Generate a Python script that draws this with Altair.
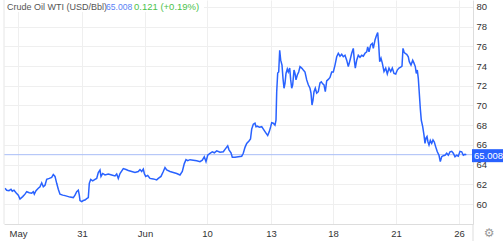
import altair as alt
import pandas as pd

# time index (trading-time position) and WTI price
t = [5, 6.7, 9, 11, 12.3, 14, 16, 18.3, 20, 22.7, 25, 26.7, 29.3, 31.7, 33.3, 34.3, 36, 38.3, 40, 41.7,
     43.3, 45, 46.7, 49.3, 51.7, 53.3, 55, 56.7, 58.3, 60, 62.7, 65, 66.7, 70, 73.3, 75, 76.7, 78.3, 79.3, 80,
     81.7, 83.3, 85, 86.7, 88.3, 89.3, 90.7, 92.7, 95, 96.7, 98.3, 100, 101, 102.7, 105, 108.3, 111.7, 115, 116.7, 118.3,
     120, 123.3, 126, 128.3, 131.7, 135, 138.3, 140, 141.7, 143.3, 144.3, 145.7, 147.7, 150, 153.3, 156.7, 158.3, 161, 163.3, 165,
     166.7, 170, 173.3, 176.7, 180, 182.3, 184.3, 186, 187.7, 190, 193.3, 196.7, 200, 202.3, 204.3, 206, 207.7, 210, 212.3, 214.3,
     216.7, 220, 223.3, 225, 227.7, 229, 231, 232.3, 235, 238.3, 241.7, 243.3, 245, 246.7, 249, 250.5, 251.7, 253.3, 255, 256,
     257.3, 259.3, 261.7, 264, 266, 267.7, 269.3, 270.7, 271.7, 273.3, 275, 276, 276.7, 277.7, 278.7, 279.7, 280.7, 282, 283, 284,
     285, 286, 287.3, 288.3, 289.7, 290.7, 291.7, 292.7, 294, 295, 296, 297.3, 298.7, 300, 301.7, 303.3, 305, 306.7, 308.3, 310,
     311, 312, 313, 314, 315.3, 316.7, 318.3, 320, 321.3, 322.7, 324, 325.3, 326.7, 328.3, 330, 331.7, 333.3, 335, 336.7, 338.3,
     340, 341.7, 343.3, 345, 346.7, 348.3, 350, 351.7, 353.3, 354.3, 355.3, 356.7, 358.3, 360, 361.7, 363.3, 365, 366.7, 367.7, 369,
     370.7, 372.3, 373.3, 375, 376.3, 377.7, 378.7, 379.7, 381, 382.3, 384, 385.7, 387.3, 389, 390.7, 392.3, 394, 395.7, 397.3, 399,
     400.7, 402, 403, 404, 405, 406.7, 408.3, 409.3, 411, 412.7, 414, 415.3, 416.3, 417.3, 418.3, 419.3, 420.3, 421.3, 422.7, 424,
     425, 426, 427, 428, 429, 430.3, 431.7, 433, 434.3, 435.7, 437.3, 439, 440.3, 441.7, 443.3, 445, 446.7, 448.3, 450, 451.7,
     453.3, 455, 456.7, 458.3, 460, 461.7, 463.3, 465, 466.3]
price = [61.6, 61.4, 61.35, 61.5, 61.3, 61.4, 61.15, 60.9, 60.5, 60.75, 61.0, 61.25, 61.15, 61.1, 61.25, 61.0, 61.35, 61.6, 61.75, 62.15,
         61.75, 61.9, 62.5, 62.6, 62.7, 63.0, 62.8, 62.1, 61.5, 61.0, 60.9, 60.85, 60.8, 60.7, 60.65, 60.9, 61.25, 61.4, 60.9, 60.35,
         60.25, 60.35, 60.4, 60.55, 60.65, 62.1, 62.5, 62.35, 62.5, 62.6, 63.2, 63.45, 62.8, 63.1, 62.95, 63.05, 62.95, 62.85, 63.05, 62.6,
         63.1, 63.6, 63.5, 63.4, 63.3, 63.2, 63.3, 63.5, 63.3, 63.55, 63.1, 62.8, 62.9, 62.6, 62.55, 62.45, 62.6, 62.8, 63.3, 63.7,
         63.45, 63.3, 63.2, 63.1, 62.95, 63.3, 64.1, 64.5, 64.4, 64.5, 64.45, 64.4, 64.3, 64.45, 64.8, 64.3, 64.95, 65.15, 65.3, 65.2,
         65.4, 65.25, 65.3, 65.55, 65.9, 65.5, 65.2, 64.75, 64.75, 64.8, 64.85, 65.15, 65.75, 66.15, 66.4, 66.6, 67.6, 68.1, 68.2, 67.85,
         67.9, 67.8, 67.85, 67.5, 67.2, 66.95, 67.35, 67.85, 68.25, 68.2, 68.0, 68.5, 71.4, 73.3, 73.4, 75.6, 74.6, 74.1, 72.75, 71.75,
         72.25, 73.25, 73.7, 73.4, 73.8, 72.6, 71.75, 72.1, 73.6, 73.25, 72.6, 73.1, 73.4, 73.95, 73.8, 73.6, 73.4, 72.6, 72.1, 71.75,
         71.25, 70.05, 70.55, 71.4, 71.75, 71.25, 71.4, 72.3, 72.4, 72.2, 72.1, 71.4, 72.5, 72.65, 72.85, 73.4, 73.4, 74.1, 74.95, 75.3,
         75.0, 75.2, 74.95, 75.1, 74.6, 73.95, 74.6, 75.3, 75.8, 74.6, 73.8, 74.6, 75.1, 74.9, 75.1, 75.0, 75.3, 75.45, 75.95, 75.45,
         76.15, 76.3, 75.8, 76.65, 77.05, 77.4, 76.15, 74.45, 74.8, 74.3, 73.45, 73.8, 73.2, 73.8, 73.45, 73.8, 73.25, 73.2, 73.6, 73.8,
         73.9, 74.0, 75.8, 75.45, 75.3, 75.2, 74.95, 74.45, 74.1, 74.6, 74.3, 73.95, 73.25, 73.6, 72.75, 71.25, 69.7, 68.5, 67.85, 67.0,
         66.15, 66.7, 66.85, 66.3, 66.0, 66.45, 66.15, 66.5, 66.3, 65.8, 65.3, 64.95, 64.3, 64.8, 64.9, 64.95, 65.15, 64.95, 65.3, 65.35,
         65.15, 64.8, 64.95, 64.85, 65.35, 65.3, 64.95, 65.05, 65.008]

tick_pos = [18, 82, 145, 207, 271, 333, 396, 459]
tick_labels = ["May", "31", "Jun", "10", "13", "18", "21", "26"]
y_ticks = [60, 62, 64, 66, 68, 70, 72, 74, 76, 78, 80]

last_value = 65.008
title_main = "Crude Oil WTI (USD/Bbl)"
title_price = "65.008"
title_change = "0.121 (+0.19%)"

W, H = 469, 224
FONT = "Liberation Sans"

df = pd.DataFrame({"t": t, "v": price})
ref = pd.DataFrame({"v": [last_value], "lab": [f"{last_value:.3f}"]})

expr = "''"
for p, lab in reversed(list(zip(tick_pos, tick_labels))):
    expr = f"datum.value == {p} ? '{lab}' : ({expr})"

xscale = alt.Scale(domain=[4, 473], nice=False, zero=False)
yscale = alt.Scale(domain=[57.97, 80.71], nice=False, zero=False)

yaxis = alt.Axis(orient="right", values=y_ticks, title=None, grid=True,
                 gridColor="#efefef", ticks=False, labelPadding=3,
                 domainColor="#dddddd", labelColor="#333333",
                 labelFontSize=9.5, labelFont=FONT)

line = alt.Chart(df).mark_line(color="#2962ff", strokeWidth=1.5).encode(
    x=alt.X("t:Q", scale=xscale,
            axis=alt.Axis(values=tick_pos, labelExpr=expr, title=None, grid=True,
                          gridColor="#efefef", ticks=False, labelPadding=4,
                          domainColor="#dddddd", labelColor="#333333",
                          labelFontSize=9.5, labelFont=FONT, labelFlush=False)),
    y=alt.Y("v:Q", scale=yscale, axis=yaxis),
)

title_bg = alt.Chart(ref).mark_rect(fill="white").encode(
    x=alt.value(-4), x2=alt.value(200), y=alt.value(0), y2=alt.value(12))

ref_rule = alt.Chart(ref).mark_rule(color="#a9bdf7", strokeWidth=1).encode(
    y=alt.Y("v:Q", scale=yscale, axis=yaxis), x=alt.value(0), x2=alt.value(W))

box = alt.Chart(ref).mark_rule(color="#2962ff", strokeWidth=13, strokeCap="butt", yOffset=1).encode(
    y=alt.Y("v:Q", scale=yscale, axis=yaxis), x=alt.value(468), x2=alt.value(499))

box_text = alt.Chart(ref).mark_text(color="white", align="left", baseline="middle",
                                    fontSize=9.5, font=FONT, dy=1.5).encode(
    y=alt.Y("v:Q", scale=yscale, axis=yaxis), x=alt.value(470), text="lab:N")

left_border = alt.Chart(ref).mark_rule(color="#e6e6e6").encode(
    x=alt.value(0), y=alt.value(0), y2=alt.value(H))
right_ext = alt.Chart(ref).mark_rule(color="#dddddd").encode(
    x=alt.value(W), y=alt.value(H), y2=alt.value(H + 17))

t1 = alt.Chart(ref).mark_text(align="left", baseline="middle", fontSize=9, font=FONT,
                              color="#555555", text=title_main).encode(
    x=alt.value(3), y=alt.value(7))
t2 = alt.Chart(ref).mark_text(align="left", baseline="middle", fontSize=8.6, font=FONT,
                              color="#5b82f5", text=title_price).encode(
    x=alt.value(102), y=alt.value(7))
t3 = alt.Chart(ref).mark_text(align="left", baseline="middle", fontSize=9.5, font=FONT,
                              color="#4cc24c", text=title_change).encode(
    x=alt.value(130), y=alt.value(7))
gear = alt.Chart(ref).mark_text(align="center", baseline="middle", fontSize=12,
                                font="DejaVu Sans", color="#999999", text="\u2699").encode(
    x=alt.value(485), y=alt.value(233))

chart = alt.layer(
    title_bg, ref_rule, line, left_border, right_ext, box, box_text, t1, t2, t3, gear
).properties(
    width=W, height=H,
    padding={"left": 4, "top": 0, "right": 30, "bottom": 17},
    autosize=alt.AutoSizeParams(type="none"),
).configure_view(stroke=None)

chart.save("out.html", embed_options={"renderer": "svg", "actions": False})
